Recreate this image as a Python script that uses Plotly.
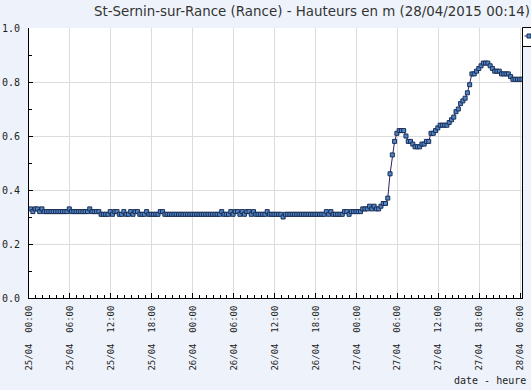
import pandas as pd
import plotly.graph_objects as go

title_text = "St-Sernin-sur-Rance (Rance) - Hauteurs en m (28/04/2015 00:14)"
x_axis_label = "date - heure"
start_time = "2015-04-25 00:14"
step = "20min"

heights = [
    0.33, 0.32, 0.33, 0.33, 0.32, 0.33, 0.32, 0.32, 0.32, 0.32, 0.32, 0.32,
    0.32, 0.32, 0.32, 0.32, 0.32, 0.33, 0.32, 0.32, 0.32, 0.32, 0.32, 0.32,
    0.32, 0.32, 0.33, 0.32, 0.32, 0.32, 0.32, 0.31, 0.31, 0.31, 0.31, 0.32,
    0.31, 0.32, 0.32, 0.31, 0.31, 0.32, 0.31, 0.31, 0.32, 0.31, 0.32, 0.32,
    0.31, 0.31, 0.31, 0.32, 0.31, 0.31, 0.31, 0.31, 0.31, 0.32, 0.32, 0.31,
    0.31, 0.31, 0.31, 0.31, 0.31, 0.31, 0.31, 0.31, 0.31, 0.31, 0.31, 0.31,
    0.31, 0.31, 0.31, 0.31, 0.31, 0.31, 0.31, 0.31, 0.31, 0.31, 0.31, 0.31,
    0.32, 0.31, 0.31, 0.31, 0.32, 0.31, 0.32, 0.32, 0.31, 0.32, 0.31, 0.32,
    0.32, 0.31, 0.32, 0.31, 0.31, 0.31, 0.31, 0.31, 0.32, 0.31, 0.31, 0.31,
    0.31, 0.31, 0.31, 0.30, 0.31, 0.31, 0.31, 0.31, 0.31, 0.31, 0.31, 0.31,
    0.31, 0.31, 0.31, 0.31, 0.31, 0.31, 0.31, 0.31, 0.31, 0.31, 0.32, 0.31,
    0.32, 0.31, 0.31, 0.31, 0.31, 0.31, 0.32, 0.32, 0.31, 0.32, 0.32, 0.32,
    0.32, 0.32, 0.33, 0.33, 0.33, 0.34, 0.33, 0.34, 0.33, 0.33, 0.34, 0.35,
    0.35, 0.37, 0.46, 0.53, 0.58, 0.61, 0.62, 0.62, 0.62, 0.60, 0.58, 0.58,
    0.57, 0.56, 0.56, 0.56, 0.57, 0.57, 0.58, 0.58, 0.61, 0.61, 0.62, 0.63,
    0.64, 0.64, 0.64, 0.64, 0.65, 0.66, 0.67, 0.69, 0.70, 0.72, 0.73, 0.74,
    0.76, 0.79, 0.83, 0.83, 0.84, 0.85, 0.86, 0.87, 0.87, 0.87, 0.86, 0.85,
    0.84, 0.84, 0.84, 0.83, 0.83, 0.83, 0.83, 0.82, 0.81, 0.81, 0.81, 0.81,
    0.81,
]
times = pd.date_range(start_time, periods=len(heights), freq=step)

y_ticks = [0.0, 0.2, 0.4, 0.6, 0.8, 1.0]
y_ticklabels = ["0.0", "0.2", "0.4", "0.6", "0.8", "1.0"]
y_minor = [0.1, 0.3, 0.5, 0.7, 0.9]

W, H = 531, 390
PL, PR, PT, PB = 29, 522, 28, 298          # plot box in page pixels
L, T, R, B = PL, PT, W - PR, H - PB
pw, ph = W - L - R, H - T - B

def px(x):
    return (x - L) / pw

def py(y):
    return (H - B - y) / ph

mono = "DejaVu Sans Mono"
fill = "#4f86c6"
edge = "#1b2d55"
linec = "#2e1f66"

fig = go.Figure()
fig.add_trace(go.Scatter(
    x=times, y=heights, mode="lines+markers",
    line=dict(color=linec, width=1),
    marker=dict(symbol="square", size=4, color=fill,
                line=dict(color=edge, width=1)),
    showlegend=False, hoverinfo="skip",
))

fig.update_layout(
    width=W, height=H,
    paper_bgcolor="#eef3fb", plot_bgcolor="#ffffff",
    margin=dict(l=L, r=R, t=T, b=B, autoexpand=False),
    font=dict(family=mono, size=10, color="#222222"),
    hovermode=False,
)
fig.add_annotation(text=title_text, xref="paper", yref="paper",
                   x=px(92), y=py(11), xanchor="left", yanchor="middle",
                   showarrow=False,
                   font=dict(family="DejaVu Sans", size=13.4, color="#333333"))

fig.update_xaxes(
    type="date",
    range=["2015-04-25 00:00", "2015-04-28 00:14"],
    tick0="2015-04-25 00:00", dtick=6 * 3600 * 1000,
    tickformat="%d/%m\u00a0\u00a0%H:%M", tickangle=-90,
    tickfont=dict(family=mono, size=9, color="#222222"),
    ticks="inside", ticklen=5, tickcolor="black",
    showline=True, linecolor="black", linewidth=1,
    showgrid=True, gridcolor="#dcdcdc", gridwidth=1,
    zeroline=False, ticklabelstandoff=3,
    minor=dict(dtick=3600 * 1000, ticks="inside", ticklen=3,
               tickcolor="black", showgrid=False),
)
fig.update_yaxes(
    range=[0, 1], tickvals=y_ticks, ticktext=y_ticklabels,
    tickfont=dict(family=mono, size=10, color="#222222"),
    ticks="inside", ticklen=4, tickcolor="black",
    showline=True, linecolor="black", linewidth=1, mirror=True,
    showgrid=True, gridcolor="#dcdcdc", gridwidth=1,
    zeroline=False, ticklabelstandoff=6,
    minor=dict(tickvals=y_minor, ticks="inside", ticklen=3,
               tickcolor="black", showgrid=False),
)

fig.add_annotation(text=x_axis_label, xref="paper", yref="paper",
                   x=px(528), y=py(380), xanchor="right", yanchor="middle",
                   showarrow=False, font=dict(family=mono, size=10, color="#222222"))

# partially visible legend box at top right
fig.add_shape(type="rect", xref="paper", yref="paper",
              x0=px(522.5), x1=px(560), y0=py(27.5), y1=py(46.5),
              line=dict(color="black", width=1), fillcolor="#ffffff")
fig.add_shape(type="line", xref="paper", yref="paper",
              x0=px(524.5), x1=px(529), y0=py(36), y1=py(36),
              line=dict(color=linec, width=1))
fig.add_shape(type="rect", xref="paper", yref="paper",
              x0=px(527), x1=px(531), y0=py(34), y1=py(38),
              line=dict(color=edge, width=1), fillcolor=fill)

fig.write_html("out.html", config={"displayModeBar": False},
               post_script="document.body.style.margin='0';")
